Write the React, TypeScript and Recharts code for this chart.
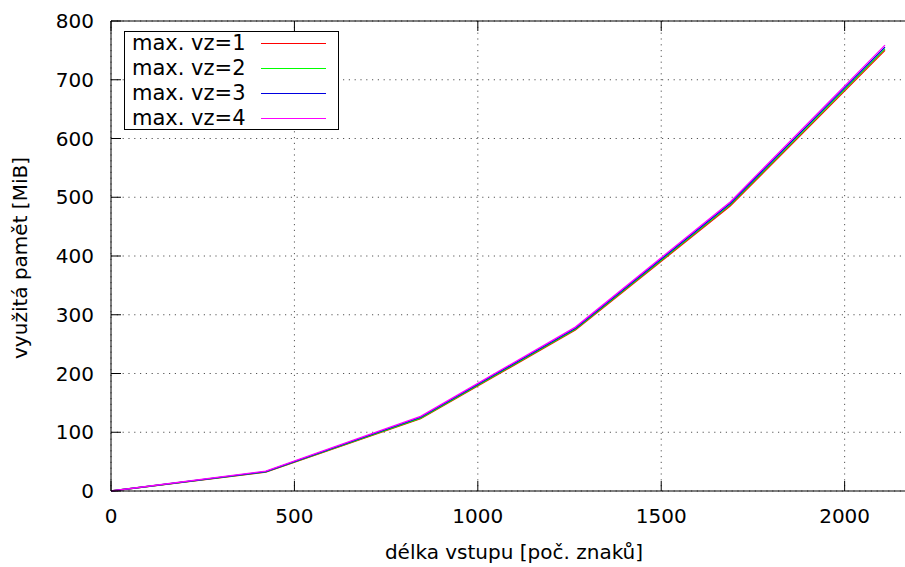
import { LineChart, Line, XAxis, YAxis, CartesianGrid, ReferenceLine } from 'recharts'

// input length [chars]
const lengths = [0, 422, 844, 1266, 1688, 2110]
// memory used [MiB] per max. vz
const vz1 = [0, 32, 123, 274, 485, 750]
const vz2 = [0, 32.5, 124, 275.5, 487, 752.5]
const vz3 = [0, 33, 125.5, 277, 489.5, 755.5]
const vz4 = [0, 34, 127, 279, 492, 759]

const seriesNames = ['max. vz=1', 'max. vz=2', 'max. vz=3', 'max. vz=4']
const seriesColors = ['#ff0000', '#00ff00', '#0000e0', '#ff00ff']
const xTicks = [0, 500, 1000, 1500, 2000]
const yTicks = [0, 100, 200, 300, 400, 500, 600, 700, 800]

const data = lengths.map((len, i) => ({
  len,
  s1: vz1[i],
  s2: vz2[i],
  s3: vz3[i],
  s4: vz4[i],
}))

const FONT = '"DejaVu Sans", sans-serif'
const PLOT_H = 470

function XTick({ x, y, payload }: any) {
  return (
    <g>
      <line x1={x} x2={x} y1={y} y2={y - 10} stroke="#000" />
      <line x1={x} x2={x} y1={y - PLOT_H} y2={y - PLOT_H + 10} stroke="#000" />
      <text x={x} y={y + 32} textAnchor="middle" fontSize={20} fontFamily={FONT} fill="#000">
        {payload.value}
      </text>
    </g>
  )
}

function YTick({ x, y, payload }: any) {
  return (
    <g>
      <line x1={x} x2={x + 10} y1={y} y2={y} stroke="#000" />
      <text x={x - 17} y={y + 7} textAnchor="end" fontSize={20} fontFamily={FONT} fill="#000">
        {payload.value}
      </text>
    </g>
  )
}

function KeyBox() {
  return (
    <div
      style={{
        position: 'absolute',
        left: 124,
        top: 31,
        border: '1px solid #000',
        background: '#fff',
        width: 215,
        height: 99,
        paddingLeft: 7,
        boxSizing: 'border-box',
        fontFamily: FONT,
        fontSize: 21,
        lineHeight: '25px',
        color: '#000',
      }}
    >
      {seriesNames.map((n, i) => (
        <div key={n} style={{ display: 'flex', alignItems: 'center', height: 25, marginTop: i === 0 ? -1 : 0 }}>
          <span style={{ width: 129, whiteSpace: 'nowrap' }}>{n}</span>
          <span style={{ width: 65, height: 1, background: seriesColors[i] }} />
        </div>
      ))}
    </div>
  )
}

export default function App() {
  return (
    <div style={{ position: 'fixed', left: 0, top: 0, width: 905, height: 567, overflow: 'hidden', background: '#fff' }}>
      <LineChart
        width={930}
        height={567}
        data={data}
        margin={{ top: 21, right: 12, left: 51, bottom: 46 }}
      >
        <CartesianGrid stroke="#555" strokeDasharray="1.2 4.6" />
        <XAxis
          dataKey="len"
          type="number"
          domain={[0, 2200]}
          ticks={xTicks}
          height={30}
          tickSize={0}
          tickMargin={0}
          tickLine={false}
          axisLine={{ stroke: '#000' }}
          tick={<XTick />}
        />
        <YAxis
          type="number"
          domain={[0, 800]}
          ticks={yTicks}
          width={60}
          tickSize={0}
          tickMargin={0}
          tickLine={false}
          axisLine={{ stroke: '#000' }}
          tick={<YTick />}
        />
        <ReferenceLine y={800} stroke="#000" />
        <Line dataKey="s1" name={seriesNames[0]} stroke={seriesColors[0]} strokeWidth={1.3} dot={false} isAnimationActive={false} />
        <Line dataKey="s2" name={seriesNames[1]} stroke={seriesColors[1]} strokeWidth={1.3} dot={false} isAnimationActive={false} />
        <Line dataKey="s3" name={seriesNames[2]} stroke={seriesColors[2]} strokeWidth={1.3} dot={false} isAnimationActive={false} />
        <Line dataKey="s4" name={seriesNames[3]} stroke={seriesColors[3]} strokeWidth={1.3} dot={false} isAnimationActive={false} />
      </LineChart>
      <KeyBox />
      <div
        style={{
          position: 'absolute',
          left: 0,
          width: 1028,
          top: 540,
          textAlign: 'center',
          fontFamily: FONT,
          fontSize: 20,
          lineHeight: '24px',
          whiteSpace: 'nowrap',
        }}
      >
        délka vstupu [poč. znaků]
      </div>
      <div
        style={{
          position: 'absolute',
          left: 20,
          top: 258,
          transform: 'translate(-50%, -50%) rotate(-90deg)',
          fontFamily: FONT,
          fontSize: 20,
          lineHeight: '24px',
          whiteSpace: 'nowrap',
        }}
      >
        využitá pamět [MiB]
      </div>
    </div>
  )
}
